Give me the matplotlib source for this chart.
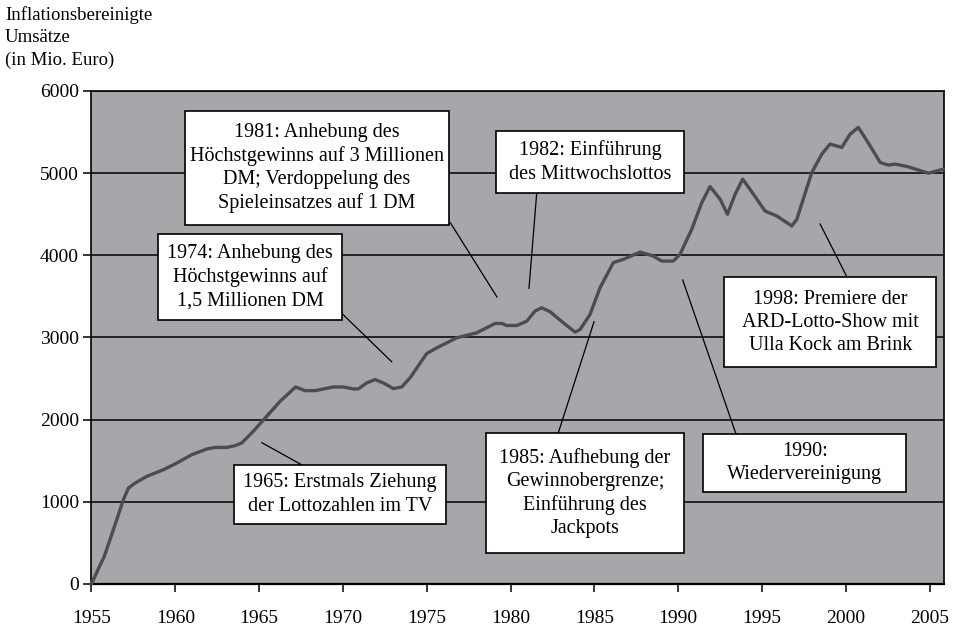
import matplotlib
matplotlib.use("Agg")
import matplotlib.pyplot as plt
from matplotlib.patches import Rectangle

plt.rcParams['font.family'] = ['Liberation Serif', 'DejaVu Serif']

# Data: inflation-adjusted lotto revenue (Mio. Euro)
years = [1955.0, 1955.47, 1955.76, 1956.30, 1956.90, 1957.20, 1957.60, 1958.29, 1959.28, 1959.98,
         1960.98, 1961.87, 1962.37, 1963.07, 1963.56, 1963.96, 1964.65, 1965.45, 1966.25, 1967.18,
         1967.74, 1968.34, 1969.43, 1970.02, 1970.62, 1970.92, 1971.42, 1971.92, 1972.41, 1973.01,
         1973.51, 1974.00, 1975.00, 1975.60, 1976.79, 1977.98, 1979.08, 1979.47, 1979.77, 1980.37,
         1980.97, 1981.46, 1981.86, 1982.36, 1983.15, 1983.85, 1984.15, 1984.74, 1985.34, 1986.13,
         1986.73, 1987.73, 1988.52, 1989.02, 1989.71, 1990.11, 1990.81, 1991.41, 1991.90, 1992.50,
         1992.94, 1993.40, 1993.85, 1994.49, 1995.18, 1995.88, 1996.78, 1997.08, 1997.97, 1998.57,
         1999.06, 1999.76, 2000.26, 2000.75, 2001.45, 2002.05, 2002.54, 2002.94, 2003.64, 2004.93,
         2005.82]
umsatz = [0, 211, 333, 658, 1024, 1167, 1228, 1309, 1390, 1460,
          1573, 1642, 1662, 1662, 1683, 1716, 1857, 2040, 2223, 2398,
          2353, 2353, 2398, 2398, 2374, 2374, 2447, 2488, 2447, 2378,
          2398, 2508, 2805, 2874, 2996, 3057, 3171, 3171, 3146, 3146,
          3199, 3321, 3362, 3313, 3179, 3065, 3098, 3280, 3606, 3911,
          3951, 4040, 3991, 3930, 3930, 4012, 4317, 4642, 4837, 4683,
          4500, 4744, 4927, 4744, 4540, 4479, 4357, 4439, 5008, 5232,
          5354, 5313, 5476, 5557, 5333, 5130, 5098, 5110, 5082, 5000,
          5049]

x_ticks = [1955, 1960, 1965, 1970, 1975, 1980, 1985, 1990, 1995, 2000, 2005]
y_ticks = [0, 1000, 2000, 3000, 4000, 5000, 6000]

# Annotations: text, box (x0, x1, y0, y1), leader (xa, ya) -> (xb, yb)
notes = [
    ("1981: Anhebung des\nHöchstgewinns auf 3 Millionen\nDM; Verdoppelung des\nSpieleinsatzes auf 1 DM",
     (1960.58, 1976.33, 4369, 5756), (1976.42, 4393, 1979.19, 3493)),
    ("1982: Einführung\ndes Mittwochslottos",
     (1979.14, 1990.35, 4758, 5513), (1981.56, 4755, 1981.10, 3599)),
    ("1974: Anhebung des\nHöchstgewinns auf\n1,5 Millionen DM",
     (1958.97, 1969.95, 3213, 4259), (1969.93, 3294, 1972.91, 2705)),
    ("1965: Erstmals Ziehung\nder Lottozahlen im TV",
     (1963.50, 1976.15, 730, 1448), (1967.56, 1448, 1965.16, 1720)),
    ("1985: Aufhebung der\nGewinnobergrenze;\nEinführung des\nJackpots",
     (1978.54, 1990.35, 374, 1841), (1982.85, 1841, 1984.98, 3192)),
    ("1990:\nWiedervereinigung",
     (1991.50, 2003.60, 1123, 1825), (1993.45, 1825, 1990.27, 3700)),
    ("1998: Premiere der\nARD-Lotto-Show mit\nUlla Kock am Brink",
     (1992.76, 2005.37, 2637, 3733), (2000.06, 3740, 1998.47, 4381)),
]

fig = plt.figure(figsize=(9.56, 6.28), dpi=100)
ax = fig.add_axes([0.0957, 0.0701, 0.8916, 0.785])
ax.set_facecolor('#a5a7ab')

ax.set_xlim(1955, 2005.85)
ax.set_ylim(0, 6000)
ax.set_yticks(y_ticks)
ax.set_yticklabels([str(v) for v in y_ticks])
ax.set_xticks(x_ticks)
ax.set_xticklabels([str(v) for v in x_ticks])
ax.grid(axis='y', color='black', linewidth=1.1, zorder=1)
ax.set_axisbelow(True)
for s in ax.spines.values():
    s.set_linewidth(1.2)
    s.set_color('black')
ax.spines['bottom'].set_linewidth(1.6)
ax.tick_params(axis='both', direction='out', length=6, width=1.1, labelsize=14, colors='black')
ax.tick_params(axis='x', pad=13)
ax.tick_params(axis='y', pad=3)

ax.plot(years, umsatz, color='#4d4d4f', linewidth=2.4, solid_joinstyle='round',
        solid_capstyle='round', zorder=3, clip_on=False)

for text, (x0, x1, y0, y1), (xa, ya, xb, yb) in notes:
    ax.plot([xa, xb], [ya, yb], color='black', linewidth=0.9, zorder=4)
    ax.add_patch(Rectangle((x0, y0), x1 - x0, y1 - y0, facecolor='white',
                           edgecolor='black', linewidth=1.2, zorder=5))
    ax.text((x0 + x1) / 2, (y0 + y1) / 2, text, ha='center', va='center',
            fontsize=14.5, linespacing=1.29, zorder=6, color='black')

fig.text(5 / 956, 1 - 6 / 628, "Inflationsbereinigte\nUmsätze\n(in Mio. Euro)",
         ha='left', va='top', fontsize=13.5, linespacing=1.42, color='black')

fig.savefig('out.png', dpi=100)
